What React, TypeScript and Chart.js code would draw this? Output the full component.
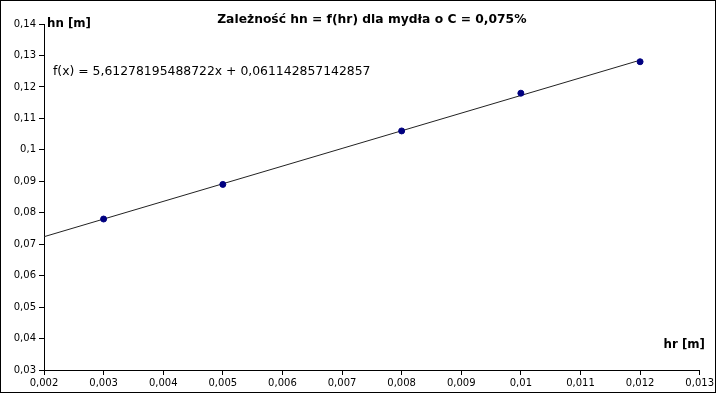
import React, { useEffect, useRef } from "react";
import { Chart, registerables } from "chart.js";

Chart.register(...registerables);

const hrValues = [0.003, 0.005, 0.008, 0.01, 0.012];
const hnValues = [0.078, 0.089, 0.106, 0.118, 0.128];
const slope = 5.61278195488722;
const intercept = 0.061142857142857;
const trendStart = 0.002;
const trendEnd = 0.012;
const titleText = "Zależność hn = f(hr) dla mydła o C = 0,075%";
const yAxisTitle = "hn [m]";
const xAxisTitle = "hr [m]";
const equationText = "f(x) = 5,61278195488722x + 0,061142857142857";

const fmt = (v: number) => String(parseFloat(Number(v).toFixed(4))).replace(".", ",");

export default function App() {
  const ref = useRef<HTMLCanvasElement>(null);
  useEffect(() => {
    const canvas = ref.current!;
    const overlay = {
      id: "overlay",
      afterDraw(chart: any) {
        const ctx = chart.ctx;
        const a = chart.chartArea;
        ctx.save();
        ctx.strokeStyle = "#000";
        ctx.lineWidth = 1;
        ctx.strokeRect(0.5, 0.5, 715, 392);
        ctx.fillStyle = "#000";
        ctx.textBaseline = "middle";
        ctx.font = "bold 12.3px 'DejaVu Sans'";
        ctx.textAlign = "center";
        ctx.fillText(titleText, (a.left + a.right) / 2, 20);
        ctx.font = "bold 11.8px 'DejaVu Sans'";
        ctx.textAlign = "left";
        ctx.fillText(yAxisTitle, 47, 24);
        ctx.textAlign = "right";
        ctx.fillText(xAxisTitle, 705, 345);
        ctx.font = "12.4px 'DejaVu Sans'";
        ctx.textAlign = "left";
        ctx.fillText(equationText, 53, 72);
        ctx.restore();
      },
    };
    const chart = new Chart(canvas, {
      type: "scatter",
      data: {
        datasets: [
          {
            label: "hn",
            data: hrValues.map((x, i) => ({ x, y: hnValues[i] })),
            backgroundColor: "#000080",
            borderColor: "#000080",
            pointRadius: 3,
            pointHoverRadius: 3,
            order: 0,
          },
          {
            label: "trend",
            data: [trendStart, trendEnd].map((x) => ({ x, y: slope * x + intercept })),
            showLine: true,
            borderColor: "#222",
            borderWidth: 1,
            pointRadius: 0,
            order: 1,
          } as any,
        ],
      },
      options: {
        animation: false,
        responsive: false,
        devicePixelRatio: 1,
        layout: { padding: { top: 24, right: 16, left: 0, bottom: 0 } },
        plugins: { legend: { display: false }, tooltip: { enabled: false }, title: { display: false } },
        scales: {
          x: {
            type: "linear",
            min: 0.002,
            max: 0.013,
            afterFit: (s: any) => { s.height = 23; },
            ticks: { stepSize: 0.001, callback: (v: any) => fmt(v), font: { family: "'DejaVu Sans'", size: 10 }, color: "#000", padding: 2, maxRotation: 0, autoSkip: false },
            grid: { drawOnChartArea: false, drawTicks: true, tickLength: 5, color: "#000" },
            border: { color: "#000" },
          },
          y: {
            type: "linear",
            min: 0.03,
            max: 0.14,
            afterFit: (s: any) => { s.width = 44; },
            ticks: { stepSize: 0.01, callback: (v: any) => fmt(v), font: { family: "'DejaVu Sans'", size: 10 }, color: "#000", padding: 3, autoSkip: false },
            grid: { drawOnChartArea: false, drawTicks: true, tickLength: 5, color: "#000" },
            border: { color: "#000" },
          },
        },
      },
      plugins: [overlay],
    } as any);
    return () => chart.destroy();
  }, []);
  return (
    <div style={{ position: "absolute", left: 0, top: 0, width: 716, height: 393, background: "#fff" }}>
      <canvas ref={ref} width={716} height={393} style={{ width: 716, height: 393, display: "block" }} />
    </div>
  );
}
